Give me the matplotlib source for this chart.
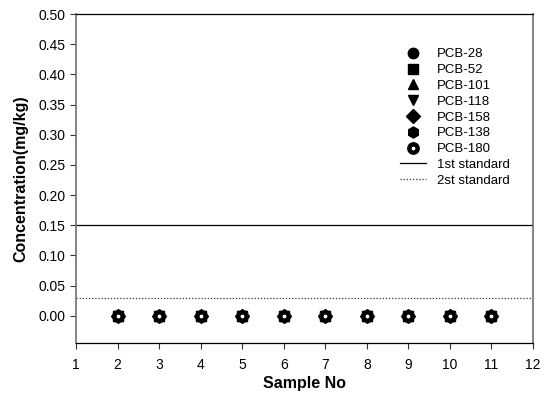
import matplotlib
matplotlib.use("Agg")
import matplotlib.pyplot as plt

plt.rcParams['font.family'] = ['Liberation Sans', 'DejaVu Sans']

samples = [2, 3, 4, 5, 6, 7, 8, 9, 10, 11]
series_names = ["PCB-28", "PCB-52", "PCB-101", "PCB-118", "PCB-158", "PCB-138", "PCB-180"]
pcb28 = [0, 0, 0, 0, 0, 0, 0, 0, 0, 0]
pcb52 = [0, 0, 0, 0, 0, 0, 0, 0, 0, 0]
pcb101 = [0, 0, 0, 0, 0, 0, 0, 0, 0, 0]
pcb118 = [0, 0, 0, 0, 0, 0, 0, 0, 0, 0]
pcb158 = [0, 0, 0, 0, 0, 0, 0, 0, 0, 0]
pcb138 = [0, 0, 0, 0, 0, 0, 0, 0, 0, 0]
pcb180 = [0, 0, 0, 0, 0, 0, 0, 0, 0, 0]
standard_1st = 0.15
standard_2st = 0.03
xticks = list(range(1, 13))
yticks = [0.00, 0.05, 0.10, 0.15, 0.20, 0.25, 0.30, 0.35, 0.40, 0.45, 0.50]

fig = plt.figure(figsize=(5.46, 3.94), dpi=100)
ax = fig.add_axes([76/546, 1 - 343/394, (533-76)/546, (343-14)/394])

values = [pcb28, pcb52, pcb101, pcb118, pcb158, pcb138]
markers = ['o', 's', '^', 'v', 'D', 'h']
sizes = [7.5, 6.5, 7.5, 7.5, 7, 8]
for name, vals, m, s in zip(series_names[:-1], values, markers, sizes):
    ax.plot(samples, vals, linestyle='none', marker=m, markersize=s, color='black', label=name)
ax.plot(samples, pcb180, linestyle='none', marker='o', markersize=6.0, markerfacecolor='white',
        markeredgecolor='black', markeredgewidth=3.2, label=series_names[-1])

ax.axhline(standard_1st, color='black', linewidth=0.9, label='1st standard')
ax.axhline(standard_2st, color='#333333', linewidth=0.9, linestyle=(0, (1, 1.5)), label='2st standard')

ax.set_xlim(1, 12)
ax.set_ylim(-0.045, 0.50)
ax.set_xticks(xticks)
ax.set_yticks(yticks)
ax.set_yticklabels([f"{v:.2f}" for v in yticks])
ax.tick_params(axis='both', labelsize=10, length=4, width=0.8, direction='out', color='#333333')
ax.tick_params(axis='x', pad=7)
ax.set_xlabel("Sample No", fontsize=11.5, fontweight='bold', labelpad=3)
ax.set_ylabel("Concentration(mg/kg)", fontsize=11.5, fontweight='bold', labelpad=7)

for side in ['left', 'right']:
    ax.spines[side].set_color('#707070')
    ax.spines[side].set_linewidth(1.2)
for side in ['top', 'bottom']:
    ax.spines[side].set_color('black')
    ax.spines[side].set_linewidth(0.9)

leg = ax.legend(loc='upper left', bbox_to_anchor=(319/457, 0.912), frameon=False, fontsize=9.5,
                handlelength=1.95, handletextpad=0.85, labelspacing=0.27, borderaxespad=0)

fig.savefig("out.png", dpi=100)
